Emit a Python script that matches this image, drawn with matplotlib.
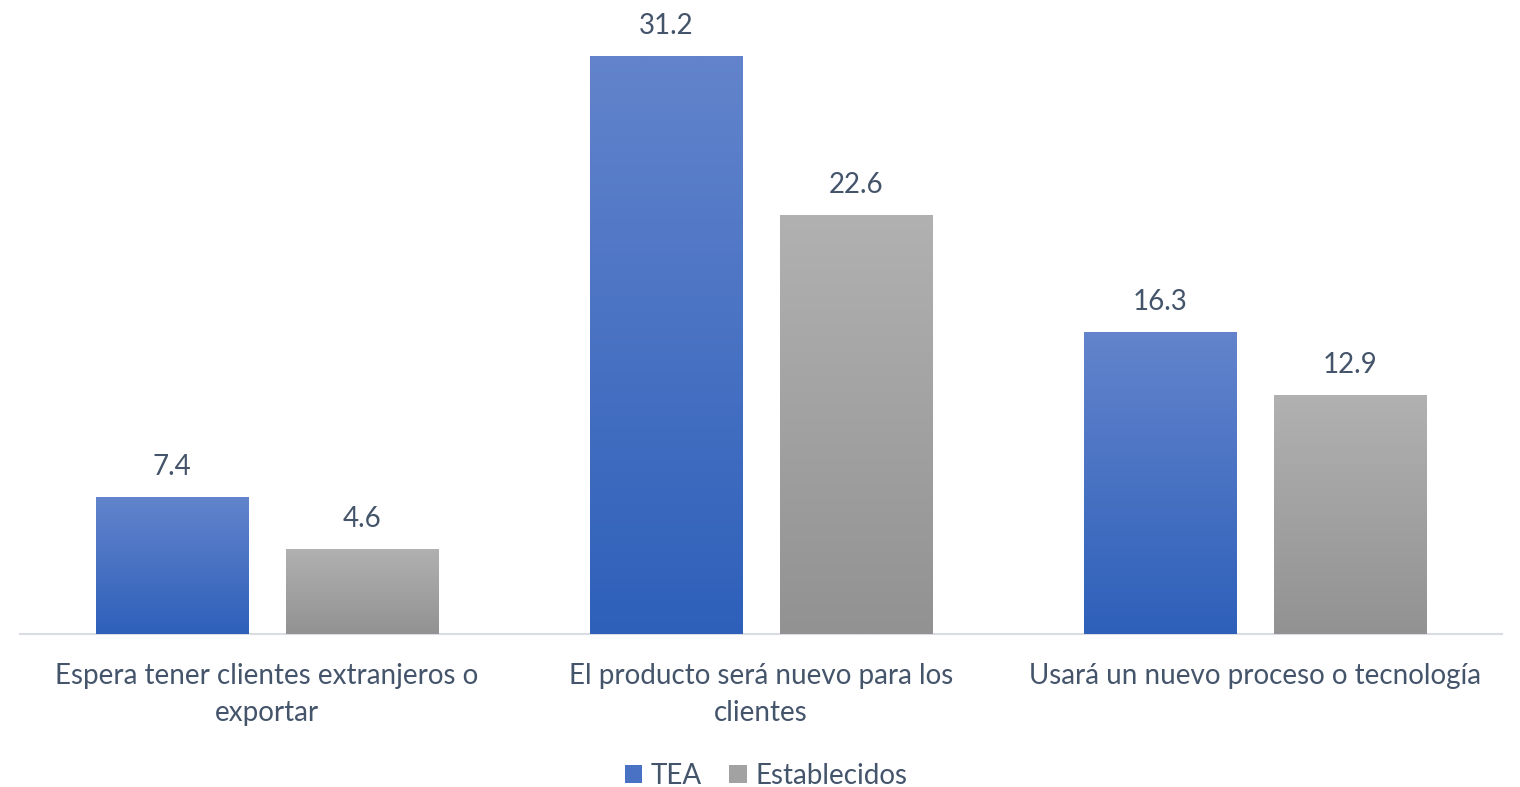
import matplotlib
matplotlib.use("Agg")
import matplotlib.pyplot as plt
import numpy as np
from matplotlib.patches import Patch
from matplotlib.colors import LinearSegmentedColormap

categories = ["Espera tener clientes extranjeros o\nexportar",
              "El producto será nuevo para los\nclientes",
              "Usará un nuevo proceso o tecnología"]
series_names = ["TEA", "Establecidos"]
tea = [7.4, 31.2, 16.3]
establecidos = [4.6, 22.6, 12.9]

text_color = "#44546A"
plt.rcParams['font.family'] = ['Lato', 'DejaVu Sans']

W, H = 1520, 787
fig = plt.figure(figsize=(W/100, H/100), dpi=100)
ppu = (634-56)/31.2
ymax = 34
ax = fig.add_axes([20/W, 1-634/H, (1502-20)/W, ymax*ppu/H])

x = np.arange(len(categories))
bw = 0.308
off = 0.192
grads = [("#6384CC", "#2E60BA"), ("#B1B1B1", "#929292")]
for vals, sign, (ctop, cbot), name in [(tea, -1, grads[0], series_names[0]),
                                        (establecidos, 1, grads[1], series_names[1])]:
    bars = ax.bar(x + sign*off, vals, width=bw, color=cbot, edgecolor="none", zorder=2)
    cmap = LinearSegmentedColormap.from_list("g", [cbot, ctop])
    for b, v in zip(bars, vals):
        grad = np.linspace(0, 1, 256).reshape(-1, 1)
        im = ax.imshow(grad, cmap=cmap, aspect="auto", origin="lower",
                       extent=[b.get_x(), b.get_x()+b.get_width(), 0, v], zorder=3)
        im.set_clip_path(b)
        ax.annotate(f"{v:.1f}", (b.get_x()+b.get_width()/2, v), xytext=(0, 16),
                    textcoords="offset points", ha="center", va="baseline",
                    fontsize=20, color=text_color)

ax.set_xlim(-0.5, 2.5)
ax.set_ylim(0, ymax)
for s in ["top", "right", "left"]:
    ax.spines[s].set_visible(False)
ax.spines["bottom"].set_color("#D9DDE3")
ax.spines["bottom"].set_linewidth(1.5)
ax.set_yticks([])
ax.set_xticks(x)
ax.set_xticklabels(categories, fontsize=20, color=text_color, linespacing=1.5)
ax.tick_params(axis="x", length=0, pad=21)

handles = [Patch(facecolor="#4A72C4", label=series_names[0]),
           Patch(facecolor="#A2A2A2", label=series_names[1])]
fig.legend(handles=handles, loc="center", bbox_to_anchor=(766/W, 1-776/H), ncol=2,
           frameon=False, fontsize=20, labelcolor=text_color,
           handlelength=0.62, handleheight=0.62, handletextpad=0.3, columnspacing=1.0)

fig.savefig("out.png", dpi=100)
